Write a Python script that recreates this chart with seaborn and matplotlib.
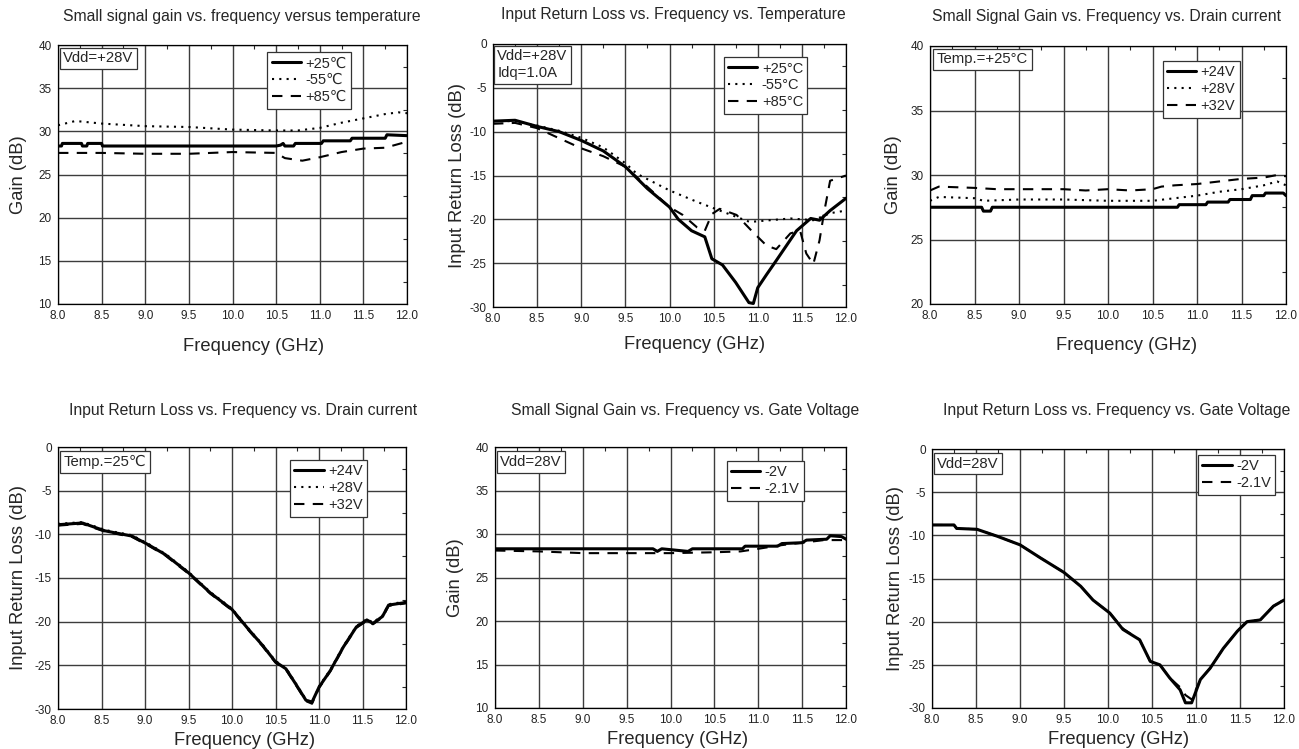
import numpy as np
import pandas as pd
import seaborn as sns
import matplotlib.pyplot as plt
from matplotlib.ticker import MultipleLocator

# ---- data ----
# 1: small signal gain vs frequency vs temperature
g25_x = [8.0, 8.04, 8.05, 8.27, 8.28, 8.33, 8.34, 8.5, 8.51, 10.5, 10.55, 10.58, 10.6,
         10.7, 10.72, 11.02, 11.04, 11.35, 11.37, 11.75, 11.77, 12.0]
g25_y = [28.3, 28.3, 28.6, 28.6, 28.3, 28.3, 28.6, 28.6, 28.3, 28.3, 28.4, 28.6, 28.3,
         28.3, 28.6, 28.6, 28.9, 28.9, 29.2, 29.2, 29.6, 29.5]
g55_x = [8.0, 8.2, 8.5, 9.0, 9.5, 10.0, 10.5, 10.75, 11.0, 11.25, 11.5, 11.75, 11.9, 12.0]
g55_y = [30.7, 31.2, 30.9, 30.6, 30.5, 30.2, 30.1, 30.1, 30.4, 31.0, 31.5, 32.0, 32.2, 32.1]
g85_x = [8.0, 8.5, 9.0, 9.5, 10.0, 10.5, 10.6, 10.8, 11.0, 11.25, 11.5, 11.75, 12.0]
g85_y = [27.5, 27.5, 27.4, 27.4, 27.6, 27.5, 26.9, 26.6, 27.0, 27.6, 28.0, 28.1, 28.8]

# 2: input return loss vs frequency vs temperature
rl25_x = [8.0, 8.25, 8.5, 8.75, 9.0, 9.25, 9.5, 9.75, 10.0, 10.1, 10.25, 10.4, 10.48,
          10.6, 10.75, 10.9, 10.95, 11.0, 11.1, 11.21, 11.44, 11.6, 11.7, 11.82, 12.0]
rl25_y = [-8.8, -8.7, -9.4, -10.0, -11.0, -12.2, -14.0, -16.5, -18.6, -20.0, -21.3, -22.0,
          -24.5, -25.2, -27.2, -29.5, -29.6, -27.8, -26.3, -24.7, -21.3, -19.9, -20.1, -19.0, -17.6]
rl55_x = [8.0, 8.25, 8.5, 8.75, 9.0, 9.25, 9.5, 9.63, 10.0, 10.31, 10.57, 10.91, 11.37,
          11.63, 11.82, 12.0]
rl55_y = [-8.8, -8.8, -9.3, -9.9, -10.7, -11.8, -13.6, -14.8, -16.7, -18.0, -19.0, -20.3,
          -19.9, -20.1, -19.3, -19.0]
rl85_x = [8.0, 8.25, 8.5, 9.0, 9.25, 9.5, 9.75, 10.0, 10.15, 10.31, 10.4, 10.48, 10.57,
          10.76, 10.93, 11.1, 11.21, 11.37, 11.48, 11.55, 11.63, 11.7, 11.75, 11.82, 12.0]
rl85_y = [-9.1, -9.0, -9.6, -11.9, -12.8, -14.0, -16.3, -18.6, -19.5, -20.9, -21.3, -19.4,
          -18.8, -19.5, -21.3, -23.0, -23.4, -21.6, -21.3, -23.9, -25.1, -22.4, -19.3, -15.6, -15.0]

# 3: small signal gain vs frequency vs drain voltage
d24_x = [8.0, 8.58, 8.6, 8.68, 8.7, 10.78, 10.8, 11.1, 11.12, 11.35, 11.37, 11.6, 11.62,
         11.75, 11.77, 11.97, 12.0]
d24_y = [27.5, 27.5, 27.2, 27.2, 27.5, 27.5, 27.7, 27.7, 27.9, 27.9, 28.1, 28.1, 28.4,
         28.4, 28.6, 28.6, 28.4]
d28_x = [8.0, 8.1, 8.5, 8.6, 9.0, 9.5, 10.0, 10.5, 10.75, 11.0, 11.25, 11.5, 11.75, 11.9, 12.0]
d28_y = [28.0, 28.3, 28.2, 28.0, 28.1, 28.1, 28.0, 28.0, 28.2, 28.4, 28.7, 28.9, 29.2, 29.5, 29.2]
d32_x = [8.0, 8.1, 8.5, 8.75, 9.0, 9.5, 9.75, 10.0, 10.25, 10.5, 10.6, 10.75, 11.0, 11.25,
         11.5, 11.75, 11.9, 12.0]
d32_y = [28.8, 29.1, 29.0, 28.9, 28.9, 28.9, 28.8, 28.9, 28.8, 28.9, 29.1, 29.2, 29.3, 29.5,
         29.7, 29.8, 30.0, 29.9]

# 4: input return loss vs frequency vs drain voltage
rd_x = [8.0, 8.28, 8.54, 8.85, 9.04, 9.23, 9.5, 9.75, 10.0, 10.2, 10.35, 10.5, 10.62, 10.73,
        10.85, 10.92, 11.0, 11.13, 11.28, 11.43, 11.55, 11.62, 11.73, 11.8, 12.0]
rd24_y = [-8.9, -8.7, -9.6, -10.2, -11.2, -12.3, -14.4, -16.7, -18.6, -21.0, -22.7, -24.6,
          -25.4, -27.1, -29.0, -29.2, -27.5, -25.6, -22.9, -20.6, -19.8, -20.2, -19.4, -18.1, -17.8]
rd28_y = [-8.8, -8.6, -9.5, -10.1, -11.1, -12.2, -14.3, -16.6, -18.5, -20.9, -22.6, -24.5,
          -25.3, -27.0, -28.9, -29.3, -27.4, -25.5, -22.8, -20.5, -19.7, -20.1, -19.3, -18.0, -17.7]
rd32_y = [-9.0, -8.8, -9.7, -10.3, -11.3, -12.4, -14.5, -16.8, -18.7, -21.1, -22.8, -24.7,
          -25.5, -27.2, -29.1, -29.4, -27.6, -25.7, -23.0, -20.7, -19.9, -20.3, -19.5, -18.2, -17.9]

# 5: small signal gain vs frequency vs gate voltage
v2_x = [8.0, 9.8, 9.85, 9.9, 10.2, 10.25, 10.82, 10.85, 11.22, 11.27, 11.5, 11.55, 11.78,
        11.82, 11.95, 12.0]
v2_y = [28.3, 28.3, 28.0, 28.3, 28.0, 28.3, 28.3, 28.6, 28.6, 28.9, 29.0, 29.3, 29.4, 29.8,
        29.7, 29.4]
v21_x = [8.0, 8.5, 9.0, 9.5, 10.0, 10.5, 10.8, 11.0, 11.25, 11.5, 11.75, 12.0]
v21_y = [28.1, 28.0, 27.8, 27.8, 27.8, 27.9, 28.0, 28.3, 28.7, 29.0, 29.3, 29.3]

# 6: input return loss vs frequency vs gate voltage
rg_x = [8.0, 8.25, 8.28, 8.51, 8.74, 9.0, 9.23, 9.5, 9.69, 9.83, 10.02, 10.17, 10.36, 10.48,
        10.59, 10.7, 10.82, 10.88, 10.95, 11.05, 11.16, 11.31, 11.47, 11.58, 11.73, 11.88, 12.0]
rg2_y = [-8.8, -8.8, -9.2, -9.3, -10.1, -11.1, -12.6, -14.3, -15.9, -17.5, -19.0, -20.9,
         -22.1, -24.6, -25.0, -26.5, -27.9, -29.4, -29.4, -26.7, -25.4, -23.1, -21.1, -20.0,
         -19.8, -18.2, -17.5]
rg21_y = [-8.8, -8.8, -9.2, -9.3, -10.1, -11.1, -12.6, -14.3, -15.9, -17.5, -19.0, -20.8,
          -22.1, -24.6, -25.0, -26.5, -27.6, -28.5, -29.0, -26.7, -25.4, -23.1, -21.1, -20.0,
          -19.8, -18.2, -17.5]

sns.set_style("white")
plt.rcParams['font.family'] = ['Liberation Sans', 'DejaVu Sans']

SOLID = '-'
DOT = (0, (1, 2.5))
DASH = (0, (5, 4))

fig = plt.figure(figsize=(12.99, 7.49), dpi=100)
W, H = 1299, 749


def add_ax(l, r, t, b):
    return fig.add_axes([l / W, 1 - b / H, (r - l) / W, (b - t) / H])


def style_ax(ax, ylim, ystep):
    ax.set_xlim(8.0, 12.0)
    ax.set_ylim(*ylim)
    ax.xaxis.set_major_locator(MultipleLocator(0.5))
    ax.xaxis.set_minor_locator(MultipleLocator(0.25))
    ax.yaxis.set_major_locator(MultipleLocator(ystep))
    ax.yaxis.set_minor_locator(MultipleLocator(ystep / 2))
    ax.xaxis.set_major_formatter(plt.FuncFormatter(lambda v, p: f"{v:.1f}"))
    ax.yaxis.set_major_formatter(plt.FuncFormatter(lambda v, p: f"{v:g}"))
    ax.grid(True, which='major', color='#3c3c3c', lw=1.0)
    ax.tick_params(which='major', direction='out', length=3, width=0.8, labelsize=8.5,
                   pad=1.5, labelcolor='#222222')
    ax.tick_params(which='minor', direction='in', length=3, width=0.8,
                   top=True, right=True)
    for s in ax.spines.values():
        s.set_color('black')
        s.set_linewidth(0.9)


def draw(ax, series):
    for x, y, ls, lw, lab in series:
        d = pd.DataFrame({'f': x, 'v': y})
        sns.lineplot(data=d, x='f', y='v', ax=ax, color='black', linestyle=ls, lw=lw,
                     label=lab, estimator=None, sort=False)


def finish(ax, title, tpos, ylabel, ylc, xlc, note, npos, lpos, ylim, ystep):
    style_ax(ax, ylim, ystep)
    fig.text(tpos[0] / W, 1 - tpos[1] / H, title, ha='center', va='center', fontsize=11.3)
    ax.set_xlabel('Frequency (GHz)', fontsize=13.2)
    ax.set_ylabel(ylabel, fontsize=13.2)
    ax.xaxis.set_label_coords(*xlc)
    ax.yaxis.set_label_coords(*ylc)
    ax.text(npos[0], npos[1], note, transform=ax.transAxes, ha='left', va='top',
            fontsize=10.7, linespacing=1.25,
            bbox=dict(boxstyle='square,pad=0.25', fc='white', ec='#333333', lw=0.9))
    leg = ax.legend(loc='upper left', bbox_to_anchor=lpos, borderaxespad=0,
                    fontsize=10.5, frameon=True, fancybox=False, framealpha=1,
                    edgecolor='#333333', handlelength=2.0, handletextpad=0.3,
                    labelspacing=0.2, borderpad=0.3)
    leg.get_frame().set_linewidth(0.9)


ax1 = add_ax(58, 407, 45, 304)
draw(ax1, [(g25_x, g25_y, SOLID, 2.2, '+25℃'),
           (g55_x, g55_y, DOT, 1.5, '-55℃'),
           (g85_x, g85_y, DASH, 1.5, '+85℃')])
finish(ax1, 'Small signal gain vs. frequency versus temperature', (242, 17), 'Gain (dB)',
       (-0.089, 0.5), (0.56, -0.13), 'Vdd=+28V', (0.015, 0.975), (0.60, 0.973), (10, 40), 5)

ax2 = add_ax(493, 846, 44, 307)
draw(ax2, [(rl25_x, rl25_y, SOLID, 2.2, '+25°C'),
           (rl55_x, rl55_y, DOT, 1.5, '-55°C'),
           (rl85_x, rl85_y, DASH, 1.5, '+85°C')])
finish(ax2, 'Input Return Loss vs. Frequency vs. Temperature', (673, 15), 'Input Return Loss (dB)',
       (-0.076, 0.5), (0.57, -0.11), 'Vdd=+28V\nIdq=1.0A', (0.012, 0.98), (0.654, 0.95), (-30, 0), 5)

ax3 = add_ax(930, 1286, 46, 304)
draw(ax3, [(d24_x, d24_y, SOLID, 2.2, '+24V'),
           (d28_x, d28_y, DOT, 1.5, '+28V'),
           (d32_x, d32_y, DASH, 1.5, '+32V')])
finish(ax3, 'Small Signal Gain vs. Frequency vs. Drain current', (1106, 16), 'Gain (dB)',
       (-0.079, 0.5), (0.553, -0.128), 'Temp.=+25°C', (0.02, 0.975), (0.654, 0.942), (20, 40), 5)

ax4 = add_ax(58, 406, 447, 709)
draw(ax4, [(rd_x, rd24_y, SOLID, 2.2, '+24V'),
           (rd_x, rd28_y, DOT, 1.5, '+28V'),
           (rd_x, rd32_y, DASH, 1.5, '+32V')])
finish(ax4, 'Input Return Loss vs. Frequency vs. Drain current', (243, 411), 'Input Return Loss (dB)',
       (-0.089, 0.5), (0.537, -0.089), 'Temp.=25℃', (0.015, 0.97), (0.667, 0.95), (-30, 0), 5)

ax5 = add_ax(495, 846, 447, 708)
draw(ax5, [(v2_x, v2_y, SOLID, 2.2, '-2V'),
           (v21_x, v21_y, DASH, 1.5, '-2.1V')])
finish(ax5, 'Small Signal Gain vs. Frequency vs. Gate Voltage', (685, 411), 'Gain (dB)',
       (-0.088, 0.5), (0.52, -0.09), 'Vdd=28V', (0.015, 0.97), (0.66, 0.946), (10, 40), 5)

ax6 = add_ax(932, 1284, 449, 708)
draw(ax6, [(rg_x, rg2_y, SOLID, 2.2, '-2V'),
           (rg_x, rg21_y, DASH, 1.5, '-2.1V')])
finish(ax6, 'Input Return Loss vs. Frequency vs. Gate Voltage', (1117, 411), 'Input Return Loss (dB)',
       (-0.080, 0.5), (0.53, -0.09), 'Vdd=28V', (0.015, 0.97), (0.756, 0.977), (-30, 0), 5)

fig.savefig('out.png', dpi=100, facecolor='white')
